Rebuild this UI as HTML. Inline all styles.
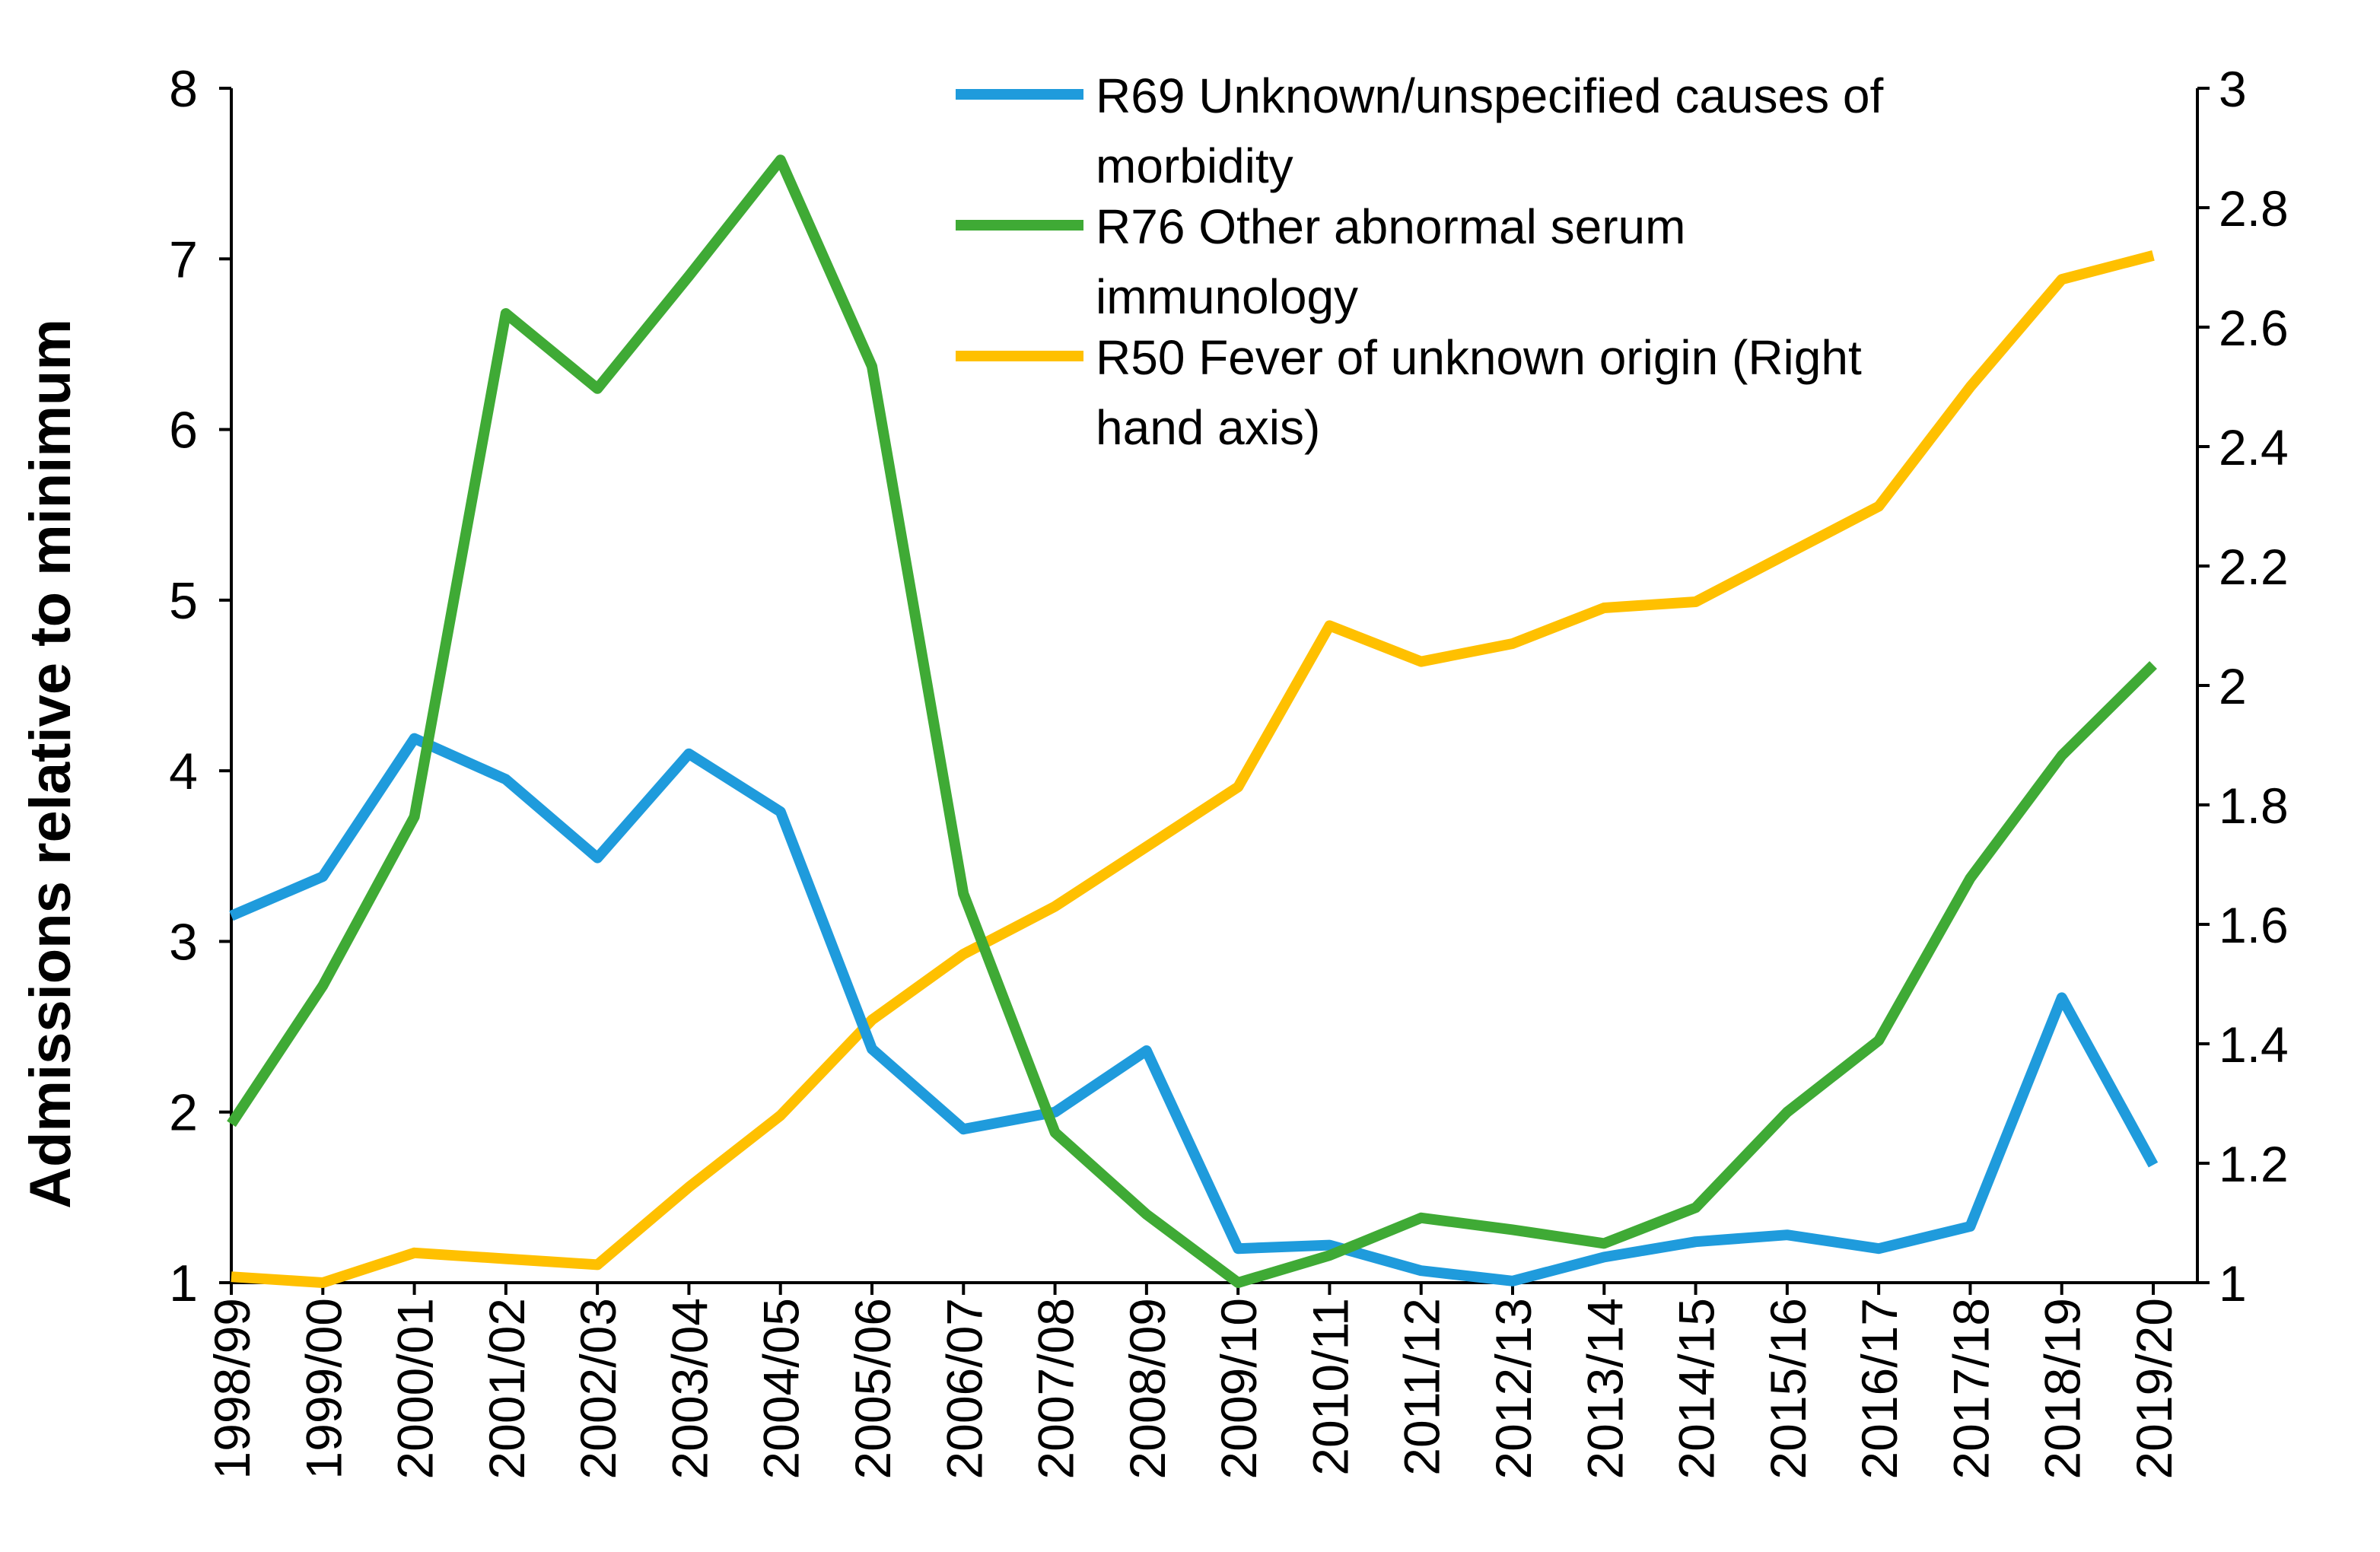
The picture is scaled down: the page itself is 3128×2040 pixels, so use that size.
<!DOCTYPE html>
<html><head><meta charset="utf-8"><style>
html,body{margin:0;padding:0;background:#fff;}
svg{display:block;font-family:"Liberation Sans",sans-serif;}
</style></head><body>
<svg id="chart" width="3128" height="2040" viewBox="0 0 1564 1020" xmlns="http://www.w3.org/2000/svg"></svg>
<script>
const categories=["1998/99","1999/00","2000/01","2001/02","2002/03","2003/04","2004/05","2005/06","2006/07","2007/08","2008/09","2009/10","2010/11","2011/12","2012/13","2013/14","2014/15","2015/16","2016/17","2017/18","2018/19","2019/20"];
const r69=[3.15,3.38,4.19,3.95,3.49,4.1,3.76,2.37,1.9,2.0,2.36,1.2,1.22,1.07,1.01,1.15,1.24,1.28,1.2,1.33,2.67,1.69];
const r76=[1.93,2.74,3.73,6.68,6.24,6.9,7.58,6.37,3.28,1.88,1.4,1.0,1.16,1.38,1.31,1.23,1.44,2.0,2.42,3.37,4.09,4.62];
const r50=[1.01,1.0,1.05,1.04,1.03,1.16,1.28,1.44,1.55,1.63,1.73,1.83,2.1,2.04,2.07,2.13,2.14,2.22,2.3,2.5,2.68,2.72];
const leftTicks=[1,2,3,4,5,6,7,8];
const rightTicks=[1,1.2,1.4,1.6,1.8,2,2.2,2.4,2.6,2.8,3];
const rightTickLabels=["1","1.2","1.4","1.6","1.8","2","2.2","2.4","2.6","2.8","3"];
const svg=document.getElementById('chart');
const NS="http://www.w3.org/2000/svg";
const L=152,R=1444,T=58,B=843,X0=152,XN=1415;
const x=i=>X0+i*(XN-X0)/(categories.length-1);
const yL=v=>B-(v-1)/(8-1)*(B-T);
const yR=v=>B-(v-1)/(3-1)*(B-T);
function el(tag,a,txt){const e=document.createElementNS(NS,tag);for(const k in a)e.setAttribute(k,a[k]);if(txt!==undefined)e.textContent=txt;svg.appendChild(e);return e;}
let e;
e=el('line',{x1:L,y1:T,x2:L,y2:B,stroke:'#000','stroke-width':2});


e=el('line',{x1:R,y1:T,x2:R,y2:B,stroke:'#000','stroke-width':2});


e=el('line',{x1:L,y1:B,x2:R,y2:B,stroke:'#000','stroke-width':2});


leftTicks.forEach(v=>{
 e=el('line',{x1:L-8,y1:yL(v),x2:L,y2:yL(v),stroke:'#000','stroke-width':2});
 
 
 e=el('text',{x:L-22,y:yL(v)+12,'font-size':34,'text-anchor':'end'},String(v));
 
 
});
rightTicks.forEach((v,i)=>{
 e=el('line',{x1:R,y1:yR(v),x2:R+8,y2:yR(v),stroke:'#000','stroke-width':2});
 
 
 e=el('text',{x:R+14,y:yR(v)+12,'font-size':33},rightTickLabels[i]);
 
 
});
categories.forEach((c,i)=>{
 e=el('line',{x1:x(i),y1:B,x2:x(i),y2:B+8,stroke:'#000','stroke-width':2});
 
 
 e=el('text',{transform:`translate(${x(i)+12},${B+10}) rotate(-90)`,'font-size':33,'text-anchor':'end'},c);
 
 
});
e=el('text',{transform:'translate(46,502) rotate(-90)','font-size':38,'font-weight':'bold','text-anchor':'middle'},'Admissions relative to minimum');


function line(vals,fy,color,name){
 const d=vals.map((v,i)=>(i?'L':'M')+x(i).toFixed(1)+','+fy(v).toFixed(1)).join(' ');
 const p=el('path',{d:d,fill:'none',stroke:color,'stroke-width':7,'stroke-linejoin':'round'});
 
 
}
line(r50,yR,'#FFC000','series-r50');
line(r69,yL,'#1F9BDC','series-r69');
line(r76,yL,'#3FAA35','series-r76');
const leg=[['#1F9BDC','R69 Unknown/unspecified causes of','morbidity',62,'legend-entry-r69'],['#3FAA35',' R76 Other abnormal serum','immunology',148,'legend-entry-r76'],['#FFC000','R50 Fever of unknown origin (Right','hand axis)',234,'legend-entry-r50']];
leg.forEach(l=>{
 e=el('line',{x1:628,y1:l[3],x2:712,y2:l[3],stroke:l[0],'stroke-width':7});
 
 
 e=el('text',{x:720,y:l[3]+12,'font-size':32,'xml:space':'preserve'},l[1]);
 
 
 e=el('text',{x:720,y:l[3]+58,'font-size':32},l[2]);
 
 
});
</script>
</body></html>
